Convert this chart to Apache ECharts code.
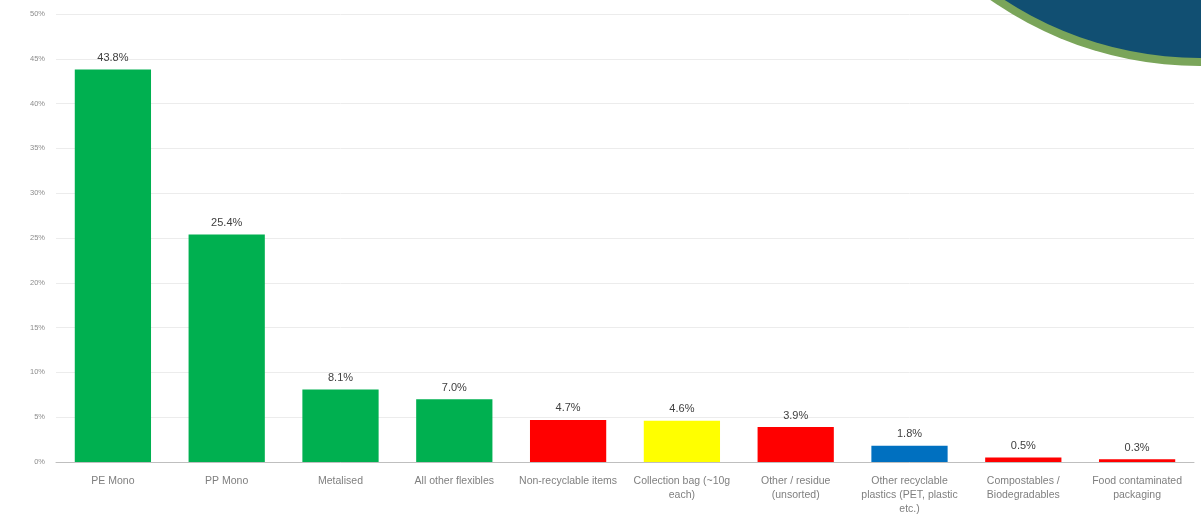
<!DOCTYPE html>
<html><head><meta charset="utf-8">
<script src="https://cdn.jsdelivr.net/npm/echarts@6/dist/echarts.min.js"></script>
<style>html,body{margin:0;padding:0;background:#fff}#c{width:1201px;height:517px}</style>
</head><body><div id="c"></div>
<script>
const categories = ["PE Mono","PP Mono","Metalised","All other flexibles","Non-recyclable items","Collection bag (~10g\neach)","Other / residue\n(unsorted)","Other recyclable\nplastics (PET, plastic\netc.)","Compostables /\nBiodegradables","Food contaminated\npackaging"];
const values = [43.8,25.4,8.1,7.0,4.7,4.6,3.9,1.8,0.5,0.3];
const barColors = ["#00b050","#00b050","#00b050","#00b050","#ff0000","#ffff00","#ff0000","#0070c0","#ff0000","#ff0000"];
const yTicks = [0,5,10,15,20,25,30,35,40,45,50];

const chart = echarts.init(document.getElementById('c'), null, {renderer:'canvas'});
chart.setOption({
  animation:false,
  grid:{left:56,right:7,top:14,bottom:55,containLabel:false},
  xAxis:{type:'category',data:categories,
    axisTick:{show:false},
    axisLine:{lineStyle:{color:'#bfbfbf',width:1}},
    axisLabel:{interval:0,color:'#7f7f7f',fontSize:10.5,fontFamily:'Liberation Sans',lineHeight:14,margin:12}},
  yAxis:{type:'value',min:0,max:50,interval:5,
    axisLine:{show:false},axisTick:{show:false},
    splitLine:{lineStyle:{color:'#ececec',width:1}},
    axisLabel:{color:'#8c8c8c',fontSize:7.5,fontFamily:'Liberation Sans',margin:11,
      formatter:v=>yTicks.includes(v)?v+'%':''}},
  series:[{type:'bar',barCategoryGap:'33%',
    data:values.map((v,i)=>({value:v,itemStyle:{color:barColors[i]}})),
    label:{show:true,position:'top',distance:6,color:'#404040',fontSize:11,fontFamily:'Liberation Sans',
      formatter:p=>p.value.toFixed(1)+'%'}}],
  graphic:[
    {type:'circle',shape:{cx:1200,cy:-300,r:366},style:{fill:'#7aa55a'},z:100},
    {type:'circle',shape:{cx:1200,cy:-300,r:358},style:{fill:'#114f72'},z:101}
  ]
});
</script></body></html>
